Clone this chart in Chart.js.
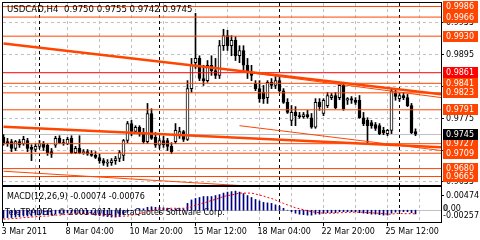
<!DOCTYPE html>
<html>
<head>
<meta charset="utf-8">
<script src="https://cdn.jsdelivr.net/npm/chart.js@4.4.1/dist/chart.umd.min.js"></script>
<style>
  body { margin: 0; background: #fff; width: 480px; height: 240px; overflow: hidden; position: relative; }
  canvas { position: absolute; left: 0; }
  #priceChart { top: 0; }
  #macdChart { top: 186px; }
</style>
</head>
<body>
<canvas id="priceChart" width="480" height="186"></canvas>
<canvas id="macdChart" width="480" height="54"></canvas>
<script>
// USDCAD H4 candles
const opens = [0.9739,0.9731,0.9731,0.9718,0.9731,0.9727,0.9733,0.9720,0.9716,0.9722,
  0.9727,0.9724,0.9712,0.9724,0.9737,0.9729,0.9727,0.9737,0.9710,0.9718,
  0.9710,0.9712,0.9708,0.9705,0.9701,0.9695,0.9690,0.9691,0.9695,0.9699,
  0.9705,0.9733,0.9765,0.9750,0.9758,0.9748,0.9731,0.9784,0.9739,0.9724,
  0.9733,0.9733,0.9722,0.9731,0.9742,0.9750,0.9735,0.9831,0.9880,0.9888,
  0.9850,0.9846,0.9875,0.9865,0.9856,0.9912,0.9931,0.9912,0.9922,0.9893,
  0.9903,0.9875,0.9861,0.9841,0.9831,0.9824,0.9814,0.9843,0.9837,0.9846,
  0.9827,0.9805,0.9771,0.9786,0.9780,0.9778,0.9782,0.9776,0.9758,0.9805,
  0.9784,0.9799,0.9814,0.9818,0.9814,0.9837,0.9809,0.9812,0.9809,0.9809,
  0.9776,0.9771,0.9767,0.9763,0.9761,0.9752,0.9746,0.9752,0.9822,0.9812,
  0.9818,0.9814,0.9799,0.9750];
const highs = [0.9744,0.9737,0.9735,0.9733,0.9735,0.9741,0.9737,0.9725,0.9727,0.9733,
  0.9731,0.9727,0.9718,0.9741,0.9742,0.9735,0.9739,0.9742,0.9722,0.9742,
  0.9716,0.9716,0.9714,0.9712,0.9707,0.9699,0.9697,0.9699,0.9703,0.9714,
  0.9735,0.9769,0.9771,0.9761,0.9761,0.9756,0.9803,0.9793,0.9748,0.9737,
  0.9741,0.9737,0.9729,0.9765,0.9758,0.9752,0.9846,0.9888,0.9973,0.9893,
  0.9875,0.9884,0.9893,0.9888,0.9922,0.9943,0.9941,0.9931,0.9929,0.9912,
  0.9912,0.9888,0.9875,0.9846,0.9846,0.9837,0.9846,0.9850,0.9854,0.9854,
  0.9831,0.9812,0.9799,0.9797,0.9786,0.9786,0.9790,0.9784,0.9812,0.9812,
  0.9812,0.9824,0.9822,0.9824,0.9839,0.9843,0.9814,0.9816,0.9814,0.9818,
  0.9786,0.9776,0.9771,0.9767,0.9765,0.9758,0.9754,0.9831,0.9829,0.9822,
  0.9824,0.9820,0.9803,0.9755];
const lows = [0.9724,0.9722,0.9712,0.9714,0.9720,0.9724,0.9712,0.9695,0.9712,0.9718,
  0.9714,0.9705,0.9701,0.9720,0.9727,0.9724,0.9725,0.9708,0.9708,0.9708,
  0.9707,0.9705,0.9703,0.9699,0.9690,0.9686,0.9684,0.9686,0.9688,0.9693,
  0.9695,0.9729,0.9742,0.9746,0.9741,0.9727,0.9727,0.9735,0.9720,0.9718,
  0.9720,0.9714,0.9708,0.9727,0.9737,0.9731,0.9733,0.9824,0.9869,0.9846,
  0.9837,0.9843,0.9856,0.9850,0.9850,0.9903,0.9903,0.9893,0.9884,0.9880,
  0.9865,0.9850,0.9846,0.9827,0.9805,0.9803,0.9803,0.9831,0.9831,0.9824,
  0.9803,0.9784,0.9761,0.9761,0.9775,0.9775,0.9775,0.9756,0.9756,0.9790,
  0.9780,0.9795,0.9810,0.9793,0.9810,0.9790,0.9801,0.9803,0.9801,0.9775,
  0.9761,0.9729,0.9756,0.9752,0.9744,0.9744,0.9742,0.9746,0.9809,0.9807,
  0.9810,0.9797,0.9746,0.9742];
const closes = [0.9727,0.9727,0.9718,0.9731,0.9725,0.9735,0.9718,0.9716,0.9722,0.9727,
  0.9720,0.9710,0.9707,0.9737,0.9729,0.9727,0.9735,0.9710,0.9718,0.9710,
  0.9712,0.9707,0.9705,0.9701,0.9695,0.9690,0.9691,0.9695,0.9699,0.9710,
  0.9733,0.9765,0.9750,0.9758,0.9746,0.9731,0.9784,0.9737,0.9724,0.9733,
  0.9725,0.9722,0.9712,0.9752,0.9750,0.9735,0.9831,0.9875,0.9888,0.9850,
  0.9846,0.9875,0.9865,0.9856,0.9912,0.9931,0.9912,0.9922,0.9893,0.9903,
  0.9875,0.9861,0.9856,0.9831,0.9812,0.9812,0.9843,0.9837,0.9846,0.9827,
  0.9805,0.9786,0.9786,0.9780,0.9778,0.9782,0.9778,0.9758,0.9805,0.9797,
  0.9809,0.9818,0.9818,0.9795,0.9837,0.9793,0.9812,0.9809,0.9805,0.9776,
  0.9765,0.9761,0.9761,0.9756,0.9746,0.9748,0.9752,0.9827,0.9816,0.9818,
  0.9814,0.9799,0.9748,0.9745];

// MACD(12,26,9): main (histogram) and signal (dotted)
const macdMain = [-0.0016,-0.0015,-0.0015,-0.0014,-0.0013,-0.0012,-0.0012,-0.0012,-0.0010,-0.0010,
  -0.0009,-0.0009,-0.0010,-0.0008,-0.0006,-0.0006,-0.0005,-0.0006,-0.0006,-0.0006,
  -0.0007,-0.0008,-0.0008,-0.0010,-0.0011,-0.0012,-0.0013,-0.0014,-0.0014,-0.0013,
  -0.0009,-0.0004,-0.0001,0.0001,0.0003,0.0003,0.0006,0.0007,0.0006,0.0006,
  0.0005,0.0004,0.0002,0.0003,0.0004,0.0003,0.0014,0.0021,0.0024,0.0026,
  0.0028,0.0028,0.0028,0.0030,0.0032,0.0035,0.0037,0.0038,0.0039,0.0037,
  0.0034,0.0030,0.0026,0.0022,0.0019,0.0016,0.0015,0.0014,0.0011,0.0008,
  0.0004,0.0000,-0.0003,-0.0006,-0.0008,-0.0009,-0.0010,-0.0010,-0.0008,-0.0008,
  -0.0006,-0.0005,-0.0005,-0.0005,-0.0003,-0.0003,-0.0003,-0.0003,-0.0003,-0.0005,
  -0.0006,-0.0007,-0.0008,-0.0008,-0.0009,-0.0010,-0.0010,-0.0006,-0.0004,-0.0003,
  -0.0003,-0.0003,-0.0005,-0.00074];
const macdSignal = [-0.0018,-0.0018,-0.0017,-0.0017,-0.0016,-0.0015,-0.0015,-0.0014,-0.0013,-0.0013,
  -0.0012,-0.0012,-0.0011,-0.0010,-0.0010,-0.0009,-0.0008,-0.0008,-0.0007,-0.0007,
  -0.0007,-0.0007,-0.0008,-0.0008,-0.0009,-0.0010,-0.0010,-0.0011,-0.0012,-0.0012,
  -0.0012,-0.0012,-0.0010,-0.0009,-0.0007,-0.0005,-0.0003,-0.0001,0.0001,0.0002,
  0.0003,0.0004,0.0004,0.0004,0.0004,0.0004,0.0005,0.0007,0.0010,0.0012,
  0.0015,0.0017,0.0020,0.0022,0.0025,0.0028,0.0030,0.0031,0.0033,0.0035,
  0.0035,0.0035,0.0035,0.0033,0.0031,0.0029,0.0026,0.0024,0.0021,0.0017,
  0.0014,0.0011,0.0008,0.0005,0.0003,0.0001,-0.0001,-0.0003,-0.0004,-0.0005,
  -0.0006,-0.0006,-0.0006,-0.0006,-0.0005,-0.0005,-0.0004,-0.0004,-0.0004,-0.0004,
  -0.0004,-0.0005,-0.0005,-0.0006,-0.0006,-0.0007,-0.0008,-0.0008,-0.0007,-0.0006,
  -0.0007,-0.0007,-0.0007,-0.00076];

// horizontal levels and trend lines [bar1, price1, bar2, price2]
const levels = [0.9986, 0.9966, 0.9930, 0.9861, 0.9841, 0.9823, 0.9791, 0.9727, 0.9709, 0.9680, 0.9665];
const thickTrends = [[0, 0.9916, 109.5, 0.9820], [0, 0.9759, 109.5, 0.9720]];
const thinTrends = [[59, 0.9761, 109.5, 0.9714], [0, 0.9675, 109.5, 0.9625], [61.5, 0.9861, 109.5, 0.9814]];

// axes
const priceTicks = [0.9955, 0.9895, 0.9835, 0.9775, 0.9715, 0.9655];
const macdTicks = [0.00474, 0, -0.00257];
const timeLabels = ['3 Mar 2011', '8 Mar 04:00', '10 Mar 20:00', '15 Mar 12:00', '18 Mar 04:00', '22 Mar 20:00', '25 Mar 12:00'];
const timeLabelBars = [0, 16, 32, 48, 64, 80, 96];
const weekStarts = [9, 39, 69, 99];

const FONT = '8px "DejaVu Sans"';
const ORANGE = '#ff4500';
const X_MIN = -0.125, X_MAX = 109.375;
const last = closes.length - 1;

function seg(a, b, c, d) { return [{ x: a, y: b }, { x: c, y: d }]; }

function vline(ctx, x, top, bottom, color, dash) {
    ctx.save();
    ctx.strokeStyle = color;
    ctx.lineWidth = 1;
    ctx.setLineDash(dash || []);
    ctx.beginPath();
    ctx.moveTo(Math.floor(x) + 0.5, top);
    ctx.lineTo(Math.floor(x) + 0.5, bottom);
    ctx.stroke();
    ctx.restore();
}

function hline(ctx, y, left, right, color, dash) {
    ctx.save();
    ctx.strokeStyle = color;
    ctx.lineWidth = 1;
    ctx.setLineDash(dash || []);
    ctx.beginPath();
    ctx.moveTo(left, Math.floor(y) + 0.5);
    ctx.lineTo(right, Math.floor(y) + 0.5);
    ctx.stroke();
    ctx.restore();
}

// grid, bid line and week separators under the candles
const priceBackground = {
    id: 'priceBackground',
    beforeDatasetsDraw(chart) {
        const { ctx, chartArea: a, scales: { x, y } } = chart;
        priceTicks.forEach(p => hline(ctx, y.getPixelForValue(p), a.left, a.right, '#c0c0c0', [3, 3]));
        for (let b = 8; b < X_MAX; b += 8) vline(ctx, x.getPixelForValue(b), a.top, a.bottom, '#c0c0c0', [3, 3]);
        hline(ctx, y.getPixelForValue(closes[last]), a.left, a.right, '#c0c0c0');
        weekStarts.forEach(b => vline(ctx, x.getPixelForValue(b), a.top, a.bottom, '#000', [3, 3]));
    },
    afterDraw(chart) {
        const { ctx, chartArea: a, scales: { y } } = chart;
        ctx.save();
        ctx.strokeStyle = '#000';
        ctx.lineWidth = 1;
        ctx.strokeRect(2.5, 2.5, a.right - 2, a.bottom - 2);
        ctx.font = FONT;
        ctx.textBaseline = 'middle';
        ctx.fillStyle = '#000';
        priceTicks.forEach(p => {
            const py = Math.floor(y.getPixelForValue(p)) + 0.5;
            hline(ctx, py, a.right, a.right + 3, '#000');
            ctx.fillText(p.toFixed(4), 446, py + 0.5);
        });
        levels.forEach(p => {
            const py = Math.floor(y.getPixelForValue(p));
            ctx.fillStyle = p === 0.9861 ? '#ff0000' : ORANGE;
            ctx.fillRect(443, py - 5, 35, 11);
            ctx.fillStyle = '#fff';
            ctx.fillText(p.toFixed(4), 446, py + 1);
        });
        const bid = Math.floor(y.getPixelForValue(closes[last]));
        ctx.fillStyle = '#000';
        ctx.fillRect(443, bid - 5, 35, 11);
        ctx.fillStyle = '#fff';
        ctx.fillText(closes[last].toFixed(4), 446, bid + 1);
        ctx.fillStyle = '#000';
        ctx.font = '8.6px "DejaVu Sans"';
        ctx.fillText('USDCAD,H4  ' + [opens[last], highs[last], lows[last], closes[last]].map(v => v.toFixed(4)).join(' '), 7, 10);
        ctx.restore();
    }
};

const bars = closes.map((c, i) => i);

new Chart(document.getElementById('priceChart'), {
    type: 'bar',
    data: {
        datasets: [
            {
                label: 'wick',
                data: bars.map(i => ({ x: i, y: [lows[i], highs[i]] })),
                backgroundColor: '#000',
                barThickness: 1,
                grouped: false,
                order: 5
            },
            {
                label: 'body',
                data: bars.map(i => ({ x: i, y: [opens[i], closes[i]] })),
                backgroundColor: bars.map(i => closes[i] > opens[i] ? '#fff' : '#000'),
                borderColor: '#000',
                borderWidth: 1,
                borderSkipped: false,
                barThickness: 3,
                minBarLength: 1,
                grouped: false,
                order: 4
            },
            ...levels.map(p => ({
                type: 'line',
                data: seg(X_MIN, p, X_MAX, p),
                borderColor: p === 0.9861 ? '#ff0000' : ORANGE,
                borderWidth: 1,
                pointRadius: 0,
                order: 2
            })),
            ...thickTrends.map(t => ({
                type: 'line',
                data: seg(...t),
                borderColor: ORANGE,
                borderWidth: 2.5,
                pointRadius: 0,
                order: 1
            })),
            ...thinTrends.map(t => ({
                type: 'line',
                data: seg(...t),
                borderColor: ORANGE,
                borderWidth: 1,
                pointRadius: 0,
                order: 1
            }))
        ]
    },
    options: {
        responsive: false,
        animation: false,
        devicePixelRatio: 1,
        layout: { padding: { left: 3, top: 3, right: 39, bottom: 1 } },
        plugins: { legend: { display: false }, tooltip: { enabled: false } },
        scales: {
            x: { type: 'linear', display: false, offset: false, min: X_MIN, max: X_MAX },
            y: { type: 'linear', display: false, min: 0.96490, max: 0.99926 }
        }
    },
    plugins: [priceBackground]
});

// MACD sub-window
const macdBackground = {
    id: 'macdBackground',
    beforeDatasetsDraw(chart) {
        const { ctx, chartArea: a, scales: { x, y } } = chart;
        for (let b = 8; b < X_MAX; b += 8) vline(ctx, x.getPixelForValue(b), a.top, a.bottom, '#c0c0c0', [3, 3]);
        hline(ctx, y.getPixelForValue(0), a.left, a.right, '#c0c0c0');
        weekStarts.forEach(b => vline(ctx, x.getPixelForValue(b), a.top, a.bottom, '#000', [3, 3]));
        ctx.save();
        ctx.font = FONT;
        ctx.textBaseline = 'middle';
        ctx.fillStyle = '#000';
        ctx.fillText('MACD(12,26,9) ' + macdMain[last].toFixed(5) + ' ' + macdSignal[last].toFixed(5), 7, 11);
        ctx.fillText('TeleTRADER, \u00a9 2001-2011 MetaQuotes Software Corp.', 5, 27);
        ctx.restore();
    },
    afterDraw(chart) {
        const { ctx, chartArea: a, scales: { x, y } } = chart;
        ctx.save();
        ctx.strokeStyle = '#000';
        ctx.lineWidth = 1;
        ctx.strokeRect(2.5, 0.5, a.right - 2, a.bottom);
        ctx.font = FONT;
        ctx.textBaseline = 'middle';
        ctx.fillStyle = '#000';
        // MT4 keeps the max/min captions inside the sub-window
        const top = y.getPixelForValue(macdTicks[0]) + 8;
        hline(ctx, top, a.right, a.right + 3, '#000');
        ctx.fillText(macdTicks[0].toFixed(5), 446, top + 1);
        const zero = Math.floor(y.getPixelForValue(macdTicks[1]));
        ctx.fillStyle = '#c0c0c0';
        ctx.fillRect(443, zero - 5, 5, 6);
        ctx.fillStyle = '#000';
        ctx.fillText(macdTicks[1].toFixed(2), 443, zero - 1);
        ctx.fillText(macdTicks[2].toFixed(5), 443, a.bottom - 6);
        timeLabelBars.forEach((b, k) => {
            const px = x.getPixelForValue(b);
            vline(ctx, px, a.bottom, a.bottom + 4, '#000');
            ctx.fillText(timeLabels[k], px - 2, a.bottom + 10);
        });
        ctx.restore();
    }
};

new Chart(document.getElementById('macdChart'), {
    type: 'bar',
    data: {
        datasets: [
            {
                label: 'MACD',
                data: bars.map(i => ({ x: i, y: macdMain[i] })),
                backgroundColor: '#000080',
                barThickness: 1,
                grouped: false,
                order: 2
            },
            {
                type: 'line',
                label: 'Signal',
                data: bars.map(i => ({ x: i, y: macdSignal[i] })),
                borderColor: '#ff0000',
                borderWidth: 1,
                borderDash: [2, 2],
                pointRadius: 0,
                order: 1
            }
        ]
    },
    options: {
        responsive: false,
        animation: false,
        devicePixelRatio: 1,
        layout: { padding: { left: 3, top: 1, right: 39, bottom: 18 } },
        plugins: { legend: { display: false }, tooltip: { enabled: false } },
        scales: {
            x: { type: 'linear', display: false, offset: false, min: X_MIN, max: X_MAX },
            y: { type: 'linear', display: false, min: -0.00240, max: 0.00474 }
        }
    },
    plugins: [macdBackground]
});
</script>
</body>
</html>
